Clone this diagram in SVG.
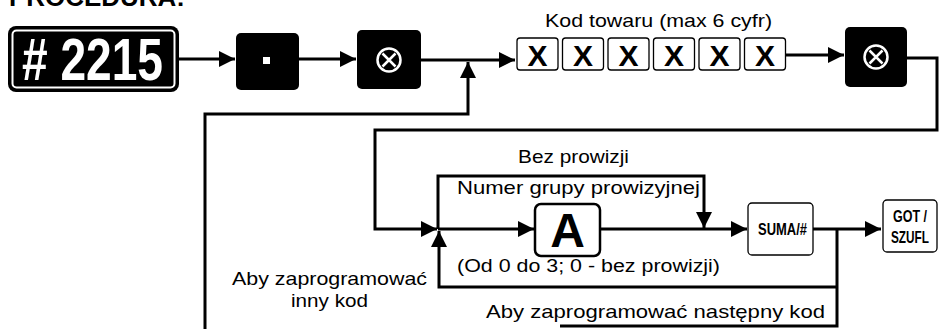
<svg xmlns="http://www.w3.org/2000/svg" width="943" height="329" viewBox="0 0 943 329">
<style>
.ln{fill:none;stroke:#000;stroke-width:3;stroke-linejoin:miter}
.t{font-family:"Liberation Sans",Arial,sans-serif;fill:#000}
.b{font-family:"Liberation Sans",Arial,sans-serif;font-weight:bold}
.key{fill:#000}
.xb{fill:#fff;stroke:#000;stroke-width:1.3}
</style>
<defs>
<marker id="ah" markerUnits="userSpaceOnUse" markerWidth="18" markerHeight="18" refX="16" refY="8" orient="auto">
<path d="M0,0 L16,8 L0,16 Z" fill="#000"/>
</marker>
</defs>
<rect width="943" height="329" fill="#fff"/>
<text class="b" x="9" y="6" font-size="26" textLength="176" lengthAdjust="spacingAndGlyphs">PROCEDURA:</text>

<g id="connectors">
<line class="ln" x1="179" y1="59" x2="235" y2="59" marker-end="url(#ah)"/>
<line class="ln" x1="299" y1="59" x2="356" y2="59" marker-end="url(#ah)"/>
<line class="ln" x1="421" y1="60" x2="515" y2="60" marker-end="url(#ah)"/>
<polyline class="ln" points="205,329 205,114 468,114 468,62" marker-end="url(#ah)"/>
<line class="ln" x1="786" y1="55" x2="844" y2="55" marker-end="url(#ah)"/>
<polyline class="ln" points="907,58 937,58 937,130 375,130 375,229 437,229" marker-end="url(#ah)"/>
<polyline class="ln" points="438,229 438,176 704,176 704,228" marker-end="url(#ah)"/>
<line class="ln" x1="438" y1="229" x2="534" y2="229" marker-end="url(#ah)"/>
<line class="ln" x1="600" y1="229" x2="747" y2="229" marker-end="url(#ah)"/>
<line class="ln" x1="813" y1="229" x2="881" y2="229" marker-end="url(#ah)"/>
<polyline class="ln" points="837,229 837,326 560,326"/>
<polyline class="ln" points="837,287 439,287 439,231" marker-end="url(#ah)"/>
</g>

<g id="n2215">
<rect x="8" y="26" width="171" height="66" rx="8" fill="#000"/>
<rect x="12.5" y="30.5" width="162" height="57" rx="4" fill="none" stroke="#fff" stroke-width="2"/>
<text class="b" x="22" y="80" font-size="60" fill="#fff" textLength="141" lengthAdjust="spacingAndGlyphs">#  2215</text>
</g>

<g id="key-dot">
<rect class="key" x="236" y="33" width="63" height="57" rx="5"/>
<rect x="263" y="57" width="7" height="7" fill="#fff"/>
</g>

<g id="key-x1">
<rect class="key" x="357" y="30" width="64" height="59" rx="5"/>
<circle cx="389" cy="60" r="11.5" fill="none" stroke="#fff" stroke-width="2.5"/>
<path d="M382.5,53.5 L395.5,66.5 M395.5,53.5 L382.5,66.5" stroke="#fff" stroke-width="2.5"/>
</g>

<g id="code">
<text class="t" x="545" y="27" font-size="19" textLength="227" lengthAdjust="spacingAndGlyphs">Kod towaru (max 6 cyfr)</text>
<g class="b" font-size="30" text-anchor="middle">
<rect class="xb" x="517" y="38" width="41" height="32" rx="3"/><text x="537.5" y="66">X</text>
<rect class="xb" x="562.5" y="38" width="41" height="32" rx="3"/><text x="583" y="66">X</text>
<rect class="xb" x="608" y="38" width="41" height="32" rx="3"/><text x="628.5" y="66">X</text>
<rect class="xb" x="653.5" y="38" width="41" height="32" rx="3"/><text x="674" y="66">X</text>
<rect class="xb" x="699" y="38" width="41" height="32" rx="3"/><text x="719.5" y="66">X</text>
<rect class="xb" x="744.5" y="38" width="41" height="32" rx="3"/><text x="765" y="66">X</text>
</g>
</g>

<g id="key-x2">
<rect class="key" x="845" y="27" width="62" height="60" rx="5"/>
<circle cx="876" cy="57" r="11.5" fill="none" stroke="#fff" stroke-width="2.5"/>
<path d="M869.5,50.5 L882.5,63.5 M882.5,50.5 L869.5,63.5" stroke="#fff" stroke-width="2.5"/>
</g>

<g id="key-a">
<rect x="535" y="204" width="65" height="52" rx="6" fill="#fff" stroke="#000" stroke-width="2.5"/>
<text class="b" x="567.5" y="247" font-size="48" text-anchor="middle">A</text>
</g>

<g id="key-suma">
<rect x="748" y="203" width="65" height="52" rx="4" fill="#fff" stroke="#000" stroke-width="1.3"/>
<text class="b" x="758" y="235" font-size="17" textLength="49" lengthAdjust="spacingAndGlyphs">SUMA/#</text>
</g>

<g id="key-got">
<rect x="883" y="200" width="54" height="52" rx="4" fill="#fff" stroke="#000" stroke-width="1.3"/>
<text class="b" x="893" y="222" font-size="17" textLength="34" lengthAdjust="spacingAndGlyphs">GOT /</text>
<text class="b" x="891" y="243" font-size="17" textLength="38" lengthAdjust="spacingAndGlyphs">SZUFL</text>
</g>

<g id="labels">
<text class="t" x="518" y="163" font-size="19" textLength="111" lengthAdjust="spacingAndGlyphs">Bez prowizji</text>
<text class="t" x="457" y="194" font-size="19" textLength="243" lengthAdjust="spacingAndGlyphs">Numer grupy prowizyjnej</text>
<text class="t" x="457" y="272" font-size="18" textLength="263" lengthAdjust="spacingAndGlyphs">(Od 0 do 3; 0 - bez prowizji)</text>
<text class="t" x="232" y="285" font-size="19" textLength="195" lengthAdjust="spacingAndGlyphs">Aby zaprogramować</text>
<text class="t" x="291" y="307" font-size="19" textLength="77" lengthAdjust="spacingAndGlyphs">inny kod</text>
<text class="t" x="486" y="318" font-size="19" textLength="339" lengthAdjust="spacingAndGlyphs">Aby zaprogramować następny kod</text>
</g>
</svg>
